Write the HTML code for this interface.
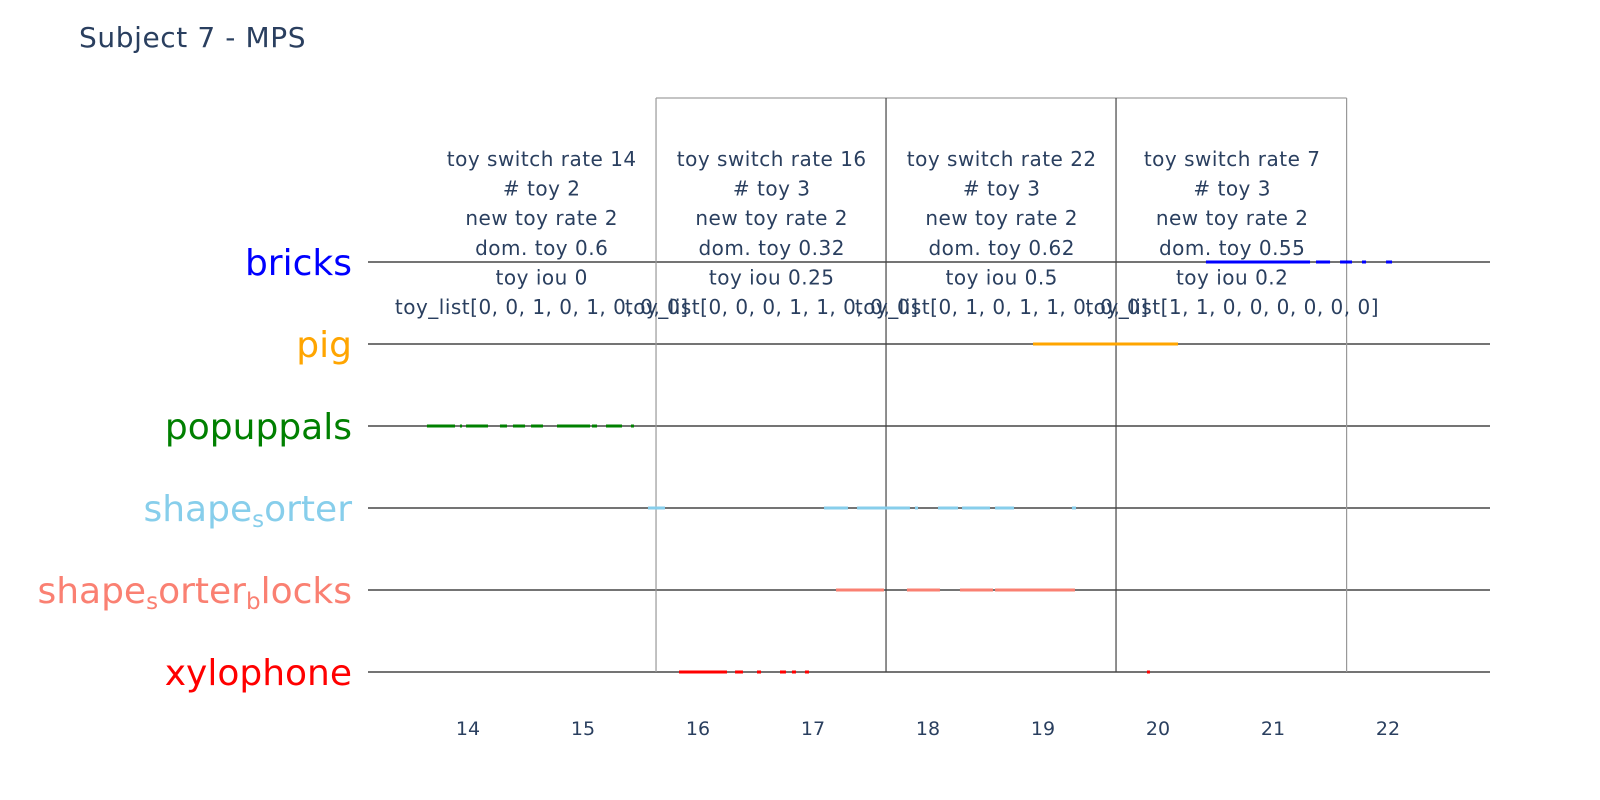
<!DOCTYPE html>
<html><head><meta charset="utf-8"><style>
body{margin:0;background:#fff;}
svg{display:block;font-family:"DejaVu Sans","Liberation Sans",sans-serif;}
</style></head><body>
<svg id="chart" width="1600" height="800" viewBox="0 0 1600 800">
<text x="79" y="47" font-size="28" letter-spacing="0.6" fill="#2a3f5f">Subject 7 - MPS</text>
<g id="grid"></g><g id="marks"></g><g id="ann"></g><g id="labels"></g>
</svg>
<script>
const categories=["bricks","pig","popuppals","shape_sorter","shape_sorter_blocks","xylophone"];
const colors=["#0000ff","#ffa500","#008000","#87ceeb","#fa8072","#ff0000"];
const xTicks=[14,15,16,17,18,19,20,21,22];
const windowEdges=[15.635,17.635,19.635,21.64];
const seg_bricks=[[20.417,21.322],[21.374,21.496],[21.583,21.687],[21.774,21.809],[21.983,22.035]];
const seg_pig=[[18.913,20.174]];
const seg_popuppals=[[13.643,13.887],[13.93,13.948],[13.983,14.174],[14.278,14.339],[14.391,14.496],[14.548,14.652],[14.774,15.061],[15.078,15.122],[15.2,15.339],[15.417,15.443]];
const seg_shape_sorter=[[15.565,15.713],[17.096,17.304],[17.383,17.843],[17.887,17.913],[18.087,18.261],[18.296,18.539],[18.583,18.748],[19.252,19.287]];
const seg_blocks=[[17.2,17.617],[17.817,18.104],[18.278,18.565],[18.583,19.278]];
const seg_xylophone=[[15.835,16.252],[16.322,16.391],[16.513,16.548],[16.713,16.765],[16.817,16.852],[16.93,16.965],[19.904,19.93]];
const annCenters=[14.641,16.641,18.641,20.645];
const switchRate=[14,16,22,7];
const numToys=[2,3,3,3];
const newToyRate=[2,2,2,2];
const domToy=[0.6,0.32,0.62,0.55];
const toyIou=[0,0.25,0.5,0.2];
const toyLists=["toy_list[0, 0, 1, 0, 1, 0, 0, 0]","toy_list[0, 0, 0, 1, 1, 0, 0, 0]","toy_list[0, 1, 0, 1, 1, 0, 0, 0]","toy_list[1, 1, 0, 0, 0, 0, 0, 0]"];
const allSegs=[seg_bricks,seg_pig,seg_popuppals,seg_shape_sorter,seg_blocks,seg_xylophone];
const NS="http://www.w3.org/2000/svg";
function X(v){return 468+(v-14)*115;}
function Y(i){return 262+i*82;}
function mk(tag,attrs,parent,txt){const e=document.createElementNS(NS,tag);for(const k in attrs)e.setAttribute(k,attrs[k]);if(txt!==undefined)e.textContent=txt;document.getElementById(parent).appendChild(e);return e;}
categories.forEach((c,i)=>{
 const l=mk('line',{x1:368,x2:1490,y1:Y(i),y2:Y(i),stroke:'#222','stroke-width':1.3},'grid');
 
 
});
const topY=98,botY=Y(5);
const tl=mk('line',{x1:X(windowEdges[0]),x2:X(windowEdges[windowEdges.length-1]),y1:topY,y2:topY,stroke:'#888','stroke-width':1},'grid');


windowEdges.forEach((w,i)=>{
 const l=mk('line',{x1:X(w),x2:X(w),y1:topY,y2:botY,stroke:(i==0||i==windowEdges.length-1)?'#999':'#444','stroke-width':1.2},'grid');
 
 
});
allSegs.forEach((segs,i)=>{
 segs.forEach((s,j)=>{
  const l=mk('line',{x1:X(s[0]),x2:X(s[1]),y1:Y(i),y2:Y(i),stroke:colors[i],'stroke-width':3},'marks');
  
  
 });
});
annCenters.forEach((c,i)=>{
 const lines=["toy switch rate "+switchRate[i],"# toy "+numToys[i],"new toy rate "+newToyRate[i],"dom. toy "+domToy[i],"toy iou "+toyIou[i],toyLists[i]];
 lines.forEach((t,k)=>{
  const e=mk('text',{x:X(c),y:166+k*29.6,'text-anchor':'middle','font-size':20,'letter-spacing':0.5,fill:'#2a3f5f'},'ann',t);
  
  
 });
});
xTicks.forEach(t=>{
 const e=mk('text',{x:X(t),y:735,'text-anchor':'middle','font-size':19,fill:'#2a3f5f'},'labels',String(t));
 
 
});
const labelHtml=[["bricks"],["pig"],["popuppals"],["shape","s","orter"],["shape","s","orter","b","locks"],["xylophone"]];
labelHtml.forEach((parts,i)=>{
 const e=mk('text',{x:352,y:Y(i)+13,'text-anchor':'end','font-size':36,fill:colors[i]},'labels');
 
 
 parts.forEach((p,k)=>{
  const sub=k%2==1;
  const ts=document.createElementNS(NS,'tspan');
  ts.textContent=p;
  if(sub){ts.setAttribute('font-size','23');ts.setAttribute('dy','6');}
  else if(k>0){ts.setAttribute('dy','-6');}
  e.appendChild(ts);
 });
});
</script>
</body></html>
